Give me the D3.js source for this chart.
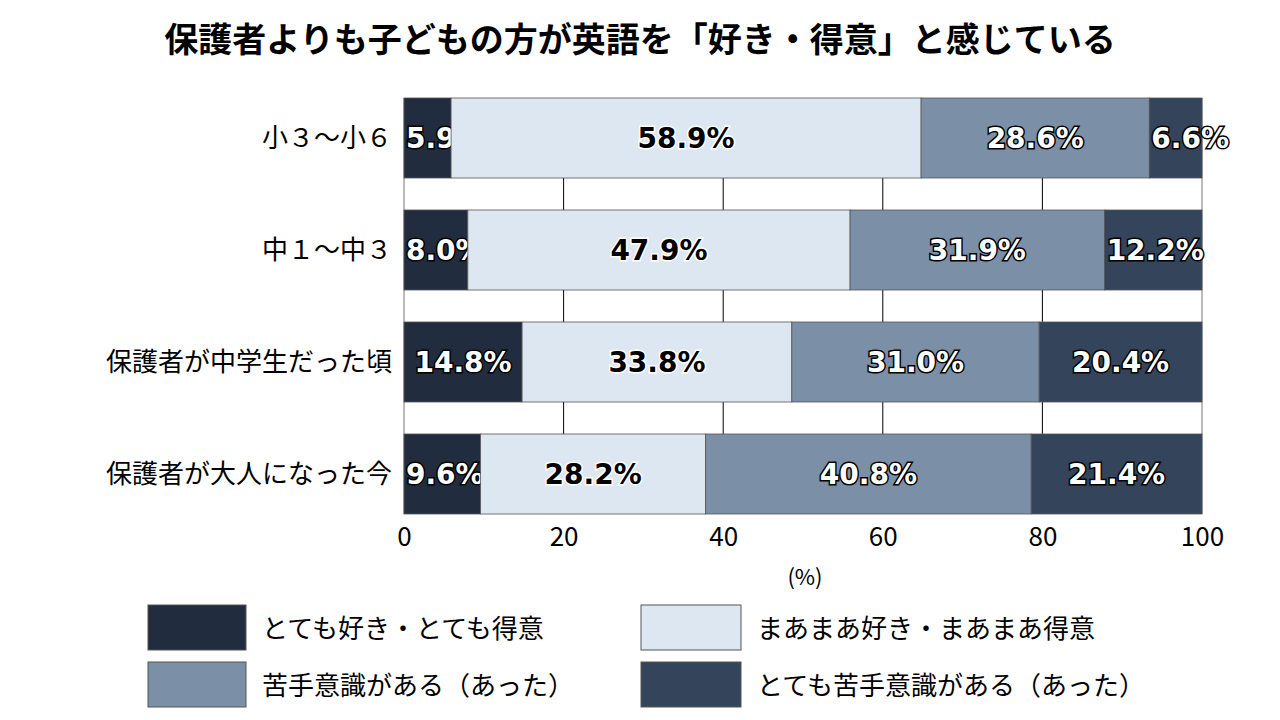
<!DOCTYPE html><html><head><meta charset="utf-8"><script src="https://cdn.jsdelivr.net/npm/d3@7"></script>
<style>body{margin:0;background:#fff}svg{font-family:"Noto Sans CJK JP",sans-serif}</style></head><body><svg width="1280" height="720"></svg><script>
const categories=["小３〜小６","中１〜中３","保護者が中学生だった頃","保護者が大人になった今"];
const seriesNames=["とても好き・とても得意","まあまあ好き・まあまあ得意","苦手意識がある（あった）","とても苦手意識がある（あった）"];
const v1=[5.9,8.0,14.8,9.6],v2=[58.9,47.9,33.8,28.2],v3=[28.6,31.9,31.0,40.8],v4=[6.6,12.2,20.4,21.4];
const ticks=[0,20,40,60,80,100];
const colors=["#212d3e","#dde7f1","#7b90a6","#33445b"];
const textDark=[false,true,false,false];
const svg=d3.select("svg");
svg.append("text").attr("x",640).attr("y",52).attr("text-anchor","middle").attr("font-size",34).attr("font-weight","bold").text("保護者よりも子どもの方が英語を「好き・得意」と感じている");
const x=d3.scaleLinear().domain([0,100]).range([404,1202]);
const y=d3.scaleBand().domain(categories).range([98,514]).paddingInner(32/112).paddingOuter(0);
const g=svg.append("g");
g.selectAll("line.grid").data(ticks).join("line").attr("x1",d=>x(d)).attr("x2",d=>x(d)).attr("y1",98).attr("y2",514).attr("stroke",(d,i)=>i==0||i==5?"#777":"#000").attr("stroke-width",1);
const series=[v1,v2,v3,v4];
categories.forEach((c,ci)=>{let acc=0;series.forEach((s,si)=>{const v=s[ci];const x0=x(acc),x1=x(acc+v);
g.append("rect").attr("x",x0).attr("y",y(c)).attr("width",x1-x0).attr("height",y.bandwidth()).attr("fill",colors[si]).attr("stroke","#555").attr("stroke-width",0.8);
const t=g.append("text").attr("y",y(c)+y.bandwidth()/2+10).attr("font-family","'DejaVu Sans',sans-serif").attr("font-weight","bold").attr("font-size",28)
.attr("fill",textDark[si]?"#000":"#fff").attr("stroke",textDark[si]?"#fff":"#000").attr("stroke-width",3).attr("paint-order","stroke").text(v.toFixed(1)+"%");
const w=t.node().getComputedTextLength();
if(w+6>x1-x0){t.attr("x",x0+2);}else{t.attr("x",(x0+x1)/2).attr("text-anchor","middle");}
acc+=v;});
svg.append("text").attr("x",392).attr("y",y(c)+y.bandwidth()/2+9).attr("text-anchor","end").attr("font-size",26).text(c);});
const ax=svg.append("g").attr("transform","translate(0,514)").call(d3.axisBottom(x).tickValues(ticks).tickSize(0).tickPadding(14));
ax.select(".domain").remove();ax.selectAll("text").attr("font-size",26).attr("font-family","'Noto Sans CJK JP',sans-serif");
svg.append("text").attr("x",805).attr("y",585).attr("text-anchor","middle").attr("font-size",22).text("(%)");
const lg=[[148,605],[641,605],[148,662],[641,662]];
seriesNames.forEach((n,i)=>{svg.append("rect").attr("x",lg[i][0]).attr("y",lg[i][1]).attr("width",i%2?100:98).attr("height",45).attr("fill",colors[i]).attr("stroke","#555");
svg.append("text").attr("x",lg[i][0]+(i%2?116:114)).attr("y",lg[i][1]+33).attr("font-size",26).text(n);});
</script></body></html>
